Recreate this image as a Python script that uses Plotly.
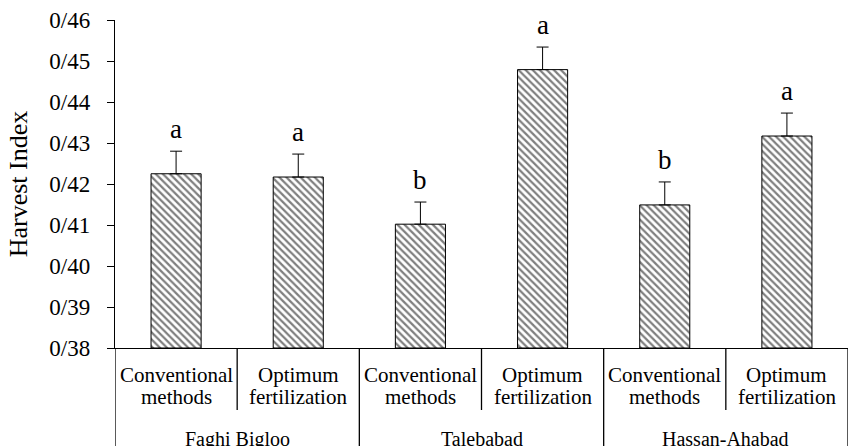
import plotly.graph_objects as go

groups = ["Faghi Bigloo", "Talebabad", "Hassan-Ahabad"]
treatments = ["Conventional methods", "Optimum fertilization"]
values = [0.4225, 0.4217, 0.4102, 0.4479, 0.4149, 0.4317]
errors = [0.0055, 0.0056, 0.0054, 0.0055, 0.0056, 0.0056]
letters = ["a", "a", "b", "a", "b", "a"]
tick_vals = [0.38, 0.39, 0.40, 0.41, 0.42, 0.43, 0.44, 0.45, 0.46]
tick_text = ["0/38", "0/39", "0/40", "0/41", "0/42", "0/43", "0/44", "0/45", "0/46"]
y_base = 0.38
y_top = 0.46

n = len(values)
xs = list(range(n))
FONT = "Liberation Serif"

fig = go.Figure()
fig.add_trace(go.Bar(
    x=xs, y=[v - y_base for v in values], base=y_base, width=0.41,
    marker=dict(color="white", line=dict(color="black", width=1),
                pattern=dict(shape="\\", fgcolor="black", bgcolor="white",
                             size=5, solidity=0.45)),
    error_y=dict(type="data", symmetric=False, array=errors,
                 arrayminus=[0] * n, color="black", thickness=1, width=6),
    showlegend=False, hoverinfo="skip",
))

for i, (v, e, l) in enumerate(zip(values, errors, letters)):
    fig.add_annotation(x=i, y=v + e, text=l, showarrow=False, yanchor="bottom",
                       yshift=5, font=dict(family=FONT, size=27, color="black"))

# category labels (two lines each)
per = len(treatments)
for gi, g in enumerate(groups):
    for ti, t in enumerate(treatments):
        idx = gi * per + ti
        lines = t.split(" ", 1)
        for li, txt in enumerate(lines):
            fig.add_annotation(x=idx, y=0, yref="paper", text=txt, showarrow=False,
                               yanchor="middle", yshift=-27 - 22 * li,
                               font=dict(family=FONT, size=21, color="black"))
    center = gi * per + (per - 1) / 2
    fig.add_annotation(x=center, y=0, yref="paper", text=g, showarrow=False,
                       yanchor="middle", yshift=-91,
                       font=dict(family=FONT, size=20, color="black"))

# separators
for b in range(n + 1):
    xb = b - 0.5
    y1 = -0.32 if b % per == 0 else -0.189
    fig.add_shape(type="line", x0=xb, x1=xb, y0=0, y1=y1, xref="x", yref="paper",
                  line=dict(color="black", width=1.3))

fig.update_layout(
    width=849, height=446,
    margin=dict(l=115, r=1, t=20, b=98),
    plot_bgcolor="white", paper_bgcolor="white",
    font=dict(family=FONT, size=20, color="black"),
    xaxis=dict(range=[-0.5, n - 0.5], showticklabels=False, ticks="",
               showline=True, linecolor="black", linewidth=1.3,
               showgrid=False, zeroline=False),
    yaxis=dict(range=[y_base, y_top + 1e-6], tickvals=tick_vals, ticktext=tick_text,
               ticks="outside", ticklen=7, tickcolor="black",
               showline=True, linecolor="black", linewidth=1.3,
               showgrid=False, zeroline=False, ticklabelstandoff=12,
               title=dict(text="Harvest Index", font=dict(family=FONT, size=26), standoff=14),
               tickfont=dict(family=FONT, size=23)),
)
fig.write_html("out.html", config={"displayModeBar": False},
               post_script="document.body.style.margin='0';document.body.style.overflow='hidden';")
